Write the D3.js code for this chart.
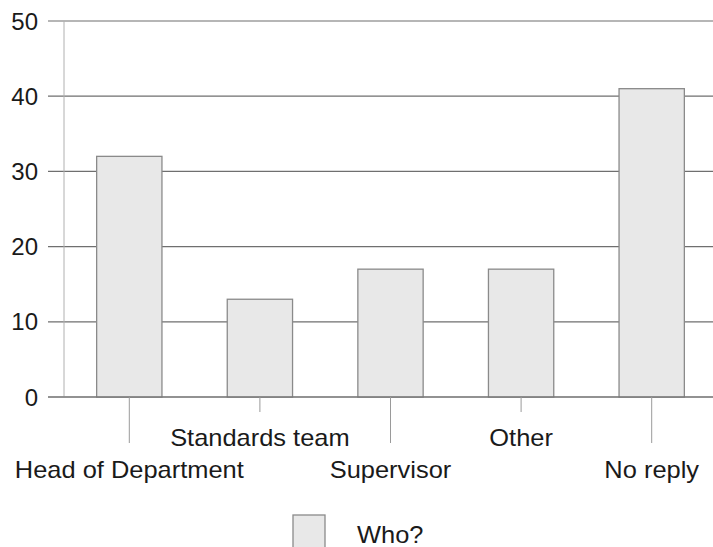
<!DOCTYPE html>
<html>
<head>
<meta charset="utf-8">
<script src="https://cdn.jsdelivr.net/npm/d3@7/dist/d3.min.js"></script>
<style>
  html, body { margin: 0; padding: 0; background: #fff; }
  svg { display: block; }
  text { font-family: Arial, "Liberation Sans", Helvetica, sans-serif; fill: #1a1a1a; }
</style>
</head>
<body>
<svg id="chart" width="713" height="547"></svg>
<script>
// Responses: who checks the work
const categories = ["Head of Department", "Standards team", "Supervisor", "Other", "No reply"];
const values = [32, 13, 17, 17, 41];
const yTicks = [0, 10, 20, 30, 40, 50];
const seriesName = "Who?";

const svg = d3.select("#chart");
const plotLeft = 64, plotRight = 717, plotTop = 21, plotBottom = 397;

const x = d3.scaleBand().domain(categories).range([plotLeft, plotRight])
  .paddingInner(0.5).paddingOuter(0.25);
const y = d3.scaleLinear().domain([0, 50]).range([plotBottom, plotTop]);

// horizontal gridlines with outward ticks
const grid = svg.append("g");
grid.selectAll("line").data(yTicks).join("line")
  .attr("x1", 48).attr("x2", 713)
  .attr("y1", d => y(d)).attr("y2", d => y(d))
  .attr("stroke", "#6f6f6f").attr("stroke-width", 1.2);

// y-axis line
svg.append("line")
  .attr("x1", plotLeft).attr("x2", plotLeft).attr("y1", y(50)).attr("y2", y(0))
  .attr("stroke", "#b0b0b0").attr("stroke-width", 1);

// y tick labels
svg.append("g").selectAll("text").data(yTicks).join("text")
  .attr("x", 38).attr("y", d => y(d))
  .attr("dy", "0.36em")
  .attr("text-anchor", "end")
  .style("font-size", "24px")
  .text(d => d);

// bars
svg.append("g").selectAll("rect").data(values).join("rect")
  .attr("x", (d, i) => x(categories[i]))
  .attr("width", x.bandwidth())
  .attr("y", d => y(d))
  .attr("height", d => y(0) - y(d))
  .attr("fill", "#e8e8e8")
  .attr("stroke", "#8a8a8a")
  .attr("stroke-width", 1.3);

// redraw baseline on top
svg.append("line")
  .attr("x1", 48).attr("x2", 713).attr("y1", y(0)).attr("y2", y(0))
  .attr("stroke", "#6f6f6f").attr("stroke-width", 1.2);

// category ticks (long for lower row, short for upper row)
svg.append("g").selectAll("line").data(categories).join("line")
  .attr("x1", d => x(d) + x.bandwidth() / 2)
  .attr("x2", d => x(d) + x.bandwidth() / 2)
  .attr("y1", y(0))
  .attr("y2", (d, i) => y(0) + (i % 2 === 0 ? 46 : 15))
  .attr("stroke", "#9a9a9a").attr("stroke-width", 1);

// staggered category labels
svg.append("g").selectAll("text").data(categories).join("text")
  .attr("x", d => x(d) + x.bandwidth() / 2)
  .attr("y", (d, i) => i % 2 === 0 ? 478 : 446)
  .attr("text-anchor", "middle")
  .attr("transform", d => {
    const cx = x(d) + x.bandwidth() / 2;
    return `translate(${cx},0) scale(1.06,1) translate(${-cx},0)`;
  })
  .style("font-size", "24px")
  .text(d => d);

// legend
const legend = svg.append("g");
legend.append("rect")
  .attr("x", 293).attr("y", 515).attr("width", 32).attr("height", 40)
  .attr("fill", "#e8e8e8").attr("stroke", "#8a8a8a").attr("stroke-width", 1.3);
legend.append("text")
  .attr("x", 357).attr("y", 543)
  .attr("transform", "translate(357,0) scale(1.06,1) translate(-357,0)")
  .style("font-size", "24px")
  .text(seriesName);
</script>
</body>
</html>
